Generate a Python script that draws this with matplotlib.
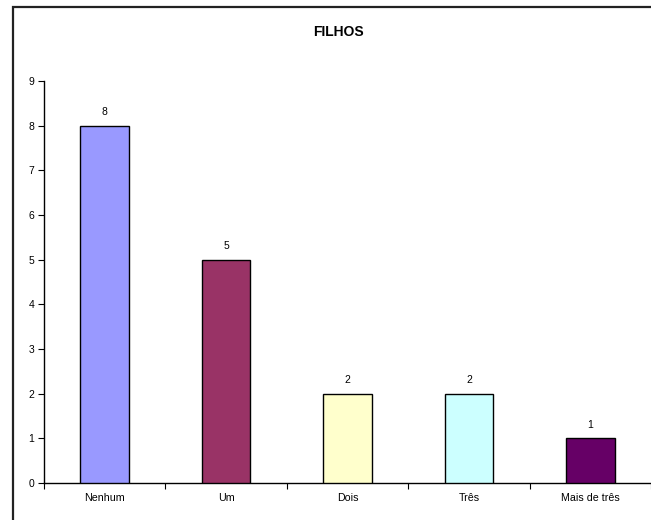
import matplotlib
matplotlib.use("Agg")
import matplotlib.pyplot as plt
from matplotlib.patches import Rectangle

categories = ["Nenhum", "Um", "Dois", "Três", "Mais de três"]
counts = [8, 5, 2, 2, 1]
bar_colors = ["#9999FF", "#993366", "#FFFFCC", "#CCFFFF", "#660066"]
y_ticks = list(range(0, 10))
title = "FILHOS"

plt.rcParams["font.family"] = ["Liberation Sans", "DejaVu Sans"]

W, H = 651, 520
fig = plt.figure(figsize=(W / 100, H / 100), dpi=100)

# chart frame (runs past the right and bottom edges)
fig.patches.append(Rectangle((12.5 / W, -0.1), 1.2, 1 - 7.5 / H + 0.1,
                             transform=fig.transFigure, fill=False,
                             edgecolor="#222222", linewidth=1.6, zorder=0))

left, right, top, bottom = 44.0, 651.0, 81.0, 483.0
ax = fig.add_axes([left / W, (H - bottom) / H, (right - left) / W, (bottom - top) / H])

x = list(range(len(categories)))
bars = ax.bar(x, counts, width=0.4, color=bar_colors, edgecolor="black",
              linewidth=1.0, zorder=3)
for xi, v in zip(x, counts):
    ax.annotate(str(v), (xi, v), xytext=(0, 6), textcoords="offset points",
                ha="center", va="bottom", fontsize=7.5)

ax.set_xlim(-0.5, len(categories) - 0.5)
ax.set_ylim(0, 9)
ax.set_yticks(y_ticks)
ax.set_xticks([i - 0.5 for i in range(len(categories) + 1)])
ax.set_xticklabels([])
ax.set_xticks(x, minor=True)
ax.set_xticklabels(categories, minor=True)
ax.tick_params(axis="x", which="major", direction="out", length=4, width=0.8)
ax.tick_params(axis="x", which="minor", length=0, pad=7, labelsize=7.7)
ax.tick_params(axis="y", direction="out", length=4, width=0.8, labelsize=7.5, pad=3)

for s in ("top", "right"):
    ax.spines[s].set_visible(False)
for s in ("left", "bottom"):
    ax.spines[s].set_linewidth(1.0)

fig.text(338 / W, 1 - 32 / H, title, ha="center", va="center",
         fontsize=10, fontweight="bold")

fig.savefig("out.png", dpi=100)
